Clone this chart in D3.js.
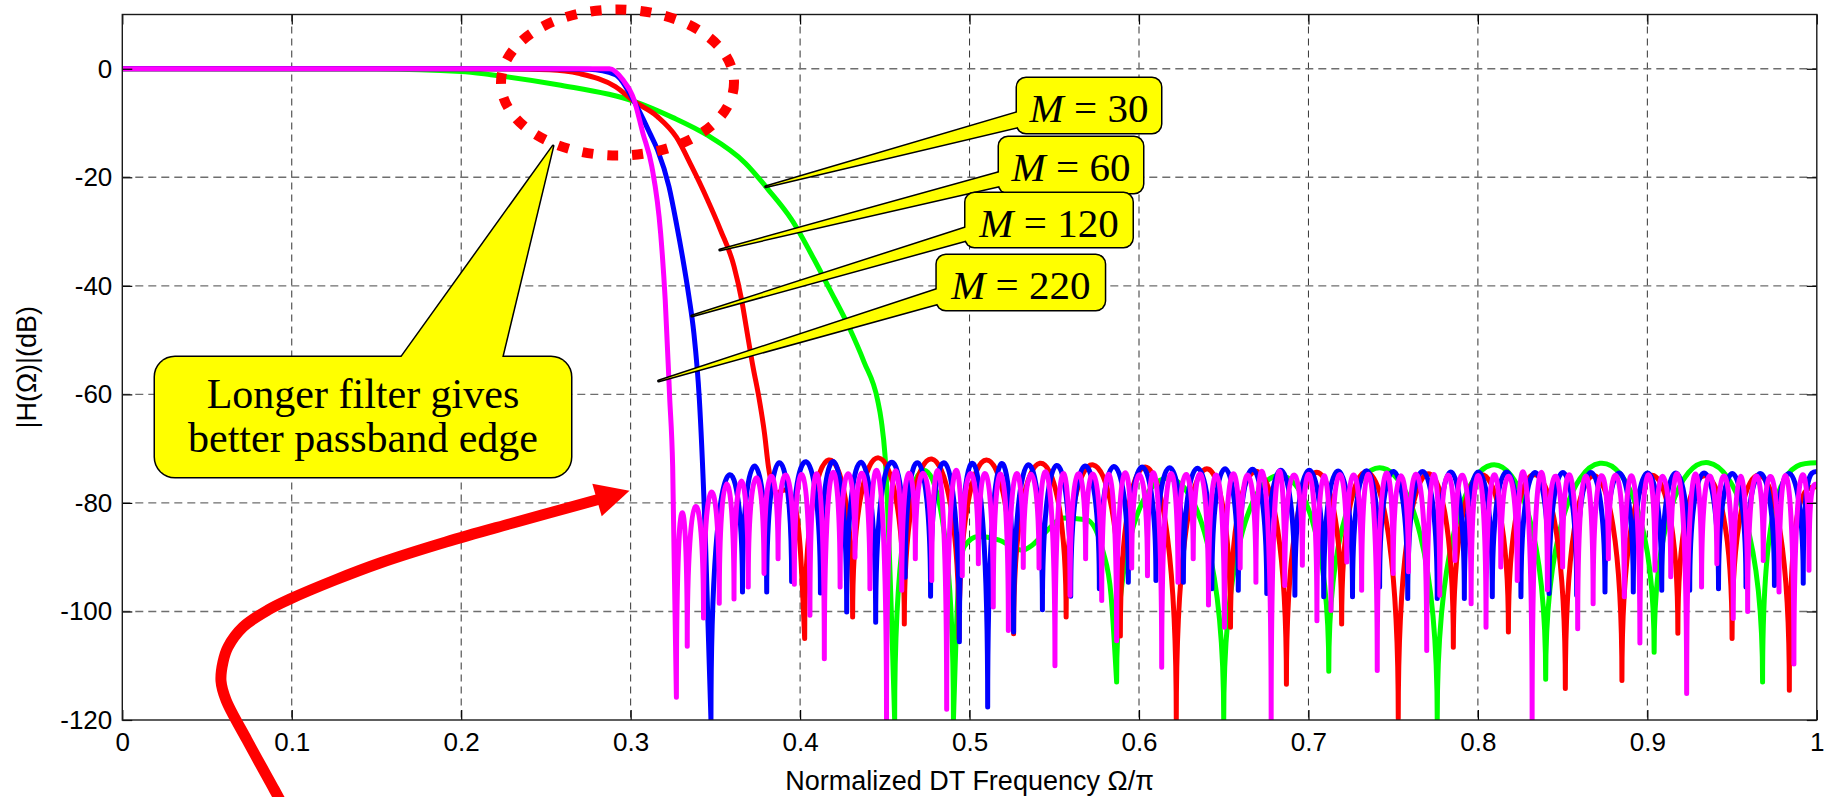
<!DOCTYPE html>
<html>
<head>
<meta charset="utf-8">
<script src="https://cdn.jsdelivr.net/npm/d3@7"></script>
<style>
  html, body { margin: 0; padding: 0; background: #fff; }
  svg { display: block; }
</style>
</head>
<body>
<svg id="chart" width="1835" height="797"></svg>
<script>
// ---------------- axis ticks ----------------
const freqTicks = [0, 0.1, 0.2, 0.3, 0.4, 0.5, 0.6, 0.7, 0.8, 0.9, 1];
const freqTickLabels = ["0", "0.1", "0.2", "0.3", "0.4", "0.5", "0.6", "0.7", "0.8", "0.9", "1"];
const dbTicks = [-120, -100, -80, -60, -40, -20, 0];
const dbTickLabels = ["-120", "-100", "-80", "-60", "-40", "-20", "0"];

// ---------------- filter lengths ----------------
const filterLengths = [30, 60, 120, 220];

// ---------------- M = 30 ----------------
// passband and transition band (Ω/π, dB)
const m30EdgeF  = [0, 0.15, 0.2, 0.2175, 0.257, 0.302, 0.325, 0.345, 0.3677, 0.3813, 0.395, 0.4084, 0.4174, 0.4287, 0.4377, 0.4457, 0.448, 0.4501, 0.4558];
const m30EdgeDb = [0, -0.05, -0.5, -1.1, -2.95, -6.0, -9.0, -12.2, -17.4, -22.3, -27.8, -35.2, -40.6, -47.5, -54.0, -61.0, -65.0, -71.2, -120];
// broad stopband hump between two nulls
const m30HumpF  = [0.4905, 0.4935, 0.497, 0.505, 0.517, 0.531, 0.536, 0.546, 0.555, 0.569, 0.579, 0.5835, 0.5868];
const m30HumpDb = [-120, -95, -88, -86.2, -86.8, -88.7, -88, -85, -82.8, -83.1, -89.2, -97, -113];
// stopband nulls and the sidelobe peak between consecutive nulls (null = drawn by the hump)
const m30NullF  = [0.4558, 0.4905, 0.5868, 0.650, 0.712, 0.776, 0.840, 0.904, 0.968];
const m30NullDb = [-120, -120, -113, -120, -111, -120, -112.5, -107.5, -113];
const m30PeakDb = [-74, null, -75.5, -75, -73.6, -73.0, -72.7, -72.6];
const m30EndDb = -72.6;

// ---------------- M = 60 ----------------
const m60EdgeF  = [0, 0.2, 0.252, 0.270, 0.291, 0.302, 0.3158, 0.327, 0.336, 0.345, 0.353, 0.361, 0.3655, 0.3688, 0.3722, 0.3756, 0.379, 0.3813, 0.3858, 0.391, 0.396, 0.400, 0.4027];
const m60EdgeDb = [0, 0, -0.2, -0.9, -3.3, -6.0, -8.8, -12.6, -18.0, -23.9, -29.7, -36.4, -42.6, -48.7, -54.9, -60.4, -67.2, -73.3, -78.2, -77.6, -79.5, -88, -105];
const m60NullF  = [0.4027, 0.431, 0.4615, 0.4938, 0.526, 0.557, 0.589, 0.622, 0.654, 0.687, 0.7196, 0.753, 0.7855, 0.818, 0.8516, 0.885, 0.918, 0.950, 0.9838];
const m60NullDb = [-105, -101, -102.3, -105, -104.1, -101, -104.5, -120, -102.9, -113.4, -102.3, -119.7, -106.6, -103.8, -114.2, -112.7, -104, -105, -114.5];
const m60PeakDb = [-72.1, -71.7, -71.9, -72.1, -72.7, -73.0, -73.6, -74.0, -74.3, -74.5, -74.6, -74.8, -74.8, -74.9, -75.0, -75.0, -75.0, -75.0];
const m60EndDb = -77;

// ---------------- M = 120 ----------------
const m120EdgeF  = [0, 0.25, 0.2755, 0.291, 0.302, 0.3113, 0.3158, 0.3226, 0.327, 0.3305, 0.3343, 0.3373, 0.3405, 0.344, 0.3474];
const m120EdgeDb = [0, 0, -0.1, -1.1, -6.0, -11.85, -14.9, -21.7, -28.5, -34.5, -41.8, -48.7, -60.7, -85.5, -120];
const m120NullF  = [0.3474, 0.366, 0.3803, 0.395, 0.412, 0.4275, 0.4446, 0.462, 0.477, 0.494,
                    0.5107, 0.526, 0.543, 0.5597, 0.5766, 0.5937, 0.610, 0.6262, 0.643, 0.6586,
                    0.6754, 0.692, 0.709, 0.726, 0.742, 0.7586, 0.776, 0.792, 0.8085, 0.8254,
                    0.842, 0.8583, 0.875, 0.8917, 0.9085, 0.925, 0.942, 0.9582, 0.975, 0.992];
const m120NullDb = [-120, -96.4, -96.4, -94.5, -96.6, -100.1, -102, -93.7, -97.2, -105.6,
                    -117.6, -103.8, -99.7, -97.2, -95.8, -94.6, -94.3, -94.6, -95.8, -96.1,
                    -96.7, -97, -97.3, -97.3, -95.5, -97.6, -97.6, -97.6, -97.3, -97.3,
                    -96.7, -97, -96.4, -96.4, -96.1, -96.1, -95.8, -95.5, -95.2, -94.8];
const m120PeakDb = [-75.4, -73.2, -72.6, -72.4, -72.4, -72.5, -72.6, -72.6, -72.7, -72.8,
                    -72.9, -73.0, -73.1, -73.2, -73.3, -73.4, -73.5, -73.6, -73.7, -73.8,
                    -74.0, -74.0, -74.1, -74.1, -74.2, -74.2, -74.3, -74.3, -74.3, -74.4,
                    -74.4, -74.4, -74.5, -74.5, -74.5, -74.5, -74.6, -74.6, -74.6];
const m120EndDb = -74.2;

// ---------------- M = 220 ----------------
const m220EdgeF  = [0, 0.25, 0.2875, 0.2953, 0.302, 0.3072, 0.3125, 0.3177, 0.3204, 0.323, 0.3248, 0.327];
const m220EdgeDb = [0, 0, 0, -2, -5.7, -11.85, -18, -30.3, -42.6, -60.4, -73.3, -115.8];
const m220NullF  = [0.327, 0.3334, 0.343, 0.3523, 0.361, 0.3694, 0.3787, 0.387, 0.3966, 0.4058,
                    0.4143, 0.4236, 0.4324, 0.4412, 0.451, 0.46, 0.468, 0.4777, 0.4865, 0.4957,
                    0.5052, 0.514, 0.5229, 0.5317, 0.541, 0.5504, 0.5593, 0.5685, 0.578, 0.5868,
                    0.5957, 0.605, 0.6134, 0.623, 0.632, 0.641, 0.6504, 0.6597, 0.669, 0.678,
                    0.686, 0.6964, 0.705, 0.7133, 0.7226, 0.7314, 0.7406, 0.75, 0.759, 0.7698,
                    0.7775, 0.7865, 0.796, 0.8048, 0.8135, 0.8232, 0.832, 0.841, 0.85, 0.8589,
                    0.868, 0.877, 0.8864, 0.8956, 0.9045, 0.9138, 0.9232, 0.932, 0.941, 0.9507,
                    0.9592, 0.9684, 0.9777, 0.9865, 0.9954];
const m220NullDb = [-115.8, -106.4, -101.2, -98.5, -97.7, -95.5, -93, -90.3, -95, -100.7,
                    -108.7, -95.5, -90, -95.8, -120, -96.1, -90.3, -94.3, -118, -93.4,
                    -91.2, -99.2, -103.5, -91.9, -92, -110, -97, -90.3, -98, -105.4,
                    -92, -93.4, -110.3, -94.6, -90.3, -98.8, -102.9, -92, -94.6, -120,
                    -95.2, -91.5, -101.7, -99.8, -90.9, -96.1, -110.9, -93, -92.7, -107.2,
                    -97, -90.6, -98.6, -102.9, -91.8, -94.3, -120, -96, -91.8, -103.2,
                    -98.6, -90.3, -97.3, -105.8, -92.4, -93.6, -115.1, -95.5, -91.2, -101.3,
                    -100, -90.6, -96.4, -109.7, -92.4];
const m220PeakDb = [-81.9, -80.7, -78.0, -76.5, -76.0, -75.4, -75.1, -74.9, -74.8, -74.7,
                    -74.6, -74.7, -74.6, -74.6, -74.7, -74.6, -74.6, -74.7, -74.7, -74.6,
                    -74.7, -74.7, -74.8, -74.7, -74.7, -74.8, -74.7, -74.8, -74.8, -74.7,
                    -74.8, -74.8, -74.9, -74.8, -74.8, -74.9, -74.8, -74.9, -74.9, -74.8,
                    -74.9, -74.9, -75.0, -74.9, -74.9, -75.0, -74.9, -75.0, -75.0, -74.9,
                    -75.0, -75.0, -75.0, -75.0, -75.1, -75.0, -75.0, -75.1, -75.0, -75.1,
                    -75.1, -75.0, -75.1, -75.1, -75.1, -75.2, -75.1, -75.1, -75.2, -75.1,
                    -75.2, -75.2, -75.2, -75.2];
const m220EndDb = -76.5;

// ---------------- assemble series ----------------
const zip = (a, b) => a.map((v, i) => [v, b[i]]);
const series = [
  { M: filterLengths[0], color: "#00ff00",
    curves: [zip(m30EdgeF, m30EdgeDb), zip(m30HumpF, m30HumpDb)],
    nulls: zip(m30NullF, m30NullDb), peaks: m30PeakDb, endDb: m30EndDb },
  { M: filterLengths[1], color: "#ff0000",
    curves: [zip(m60EdgeF, m60EdgeDb)],
    nulls: zip(m60NullF, m60NullDb), peaks: m60PeakDb, endDb: m60EndDb },
  { M: filterLengths[2], color: "#0000ff",
    curves: [zip(m120EdgeF, m120EdgeDb)],
    nulls: zip(m120NullF, m120NullDb), peaks: m120PeakDb, endDb: m120EndDb },
  { M: filterLengths[3], color: "#ff00ff",
    curves: [zip(m220EdgeF, m220EdgeDb)],
    nulls: zip(m220NullF, m220NullDb), peaks: m220PeakDb, endDb: m220EndDb }
];

// ---------------- layout ----------------
const W = 1835, H = 797;
const plot = { left: 122.3, right: 1816.8, top: 14.5, bottom: 720 };
const sansFont = '"Liberation Sans", Arial, Helvetica, sans-serif';
const serifFont = '"Liberation Serif", "Times New Roman", Times, serif';

const svg = d3.select("#chart");
const x = d3.scaleLinear().domain([0, 1]).range([plot.left, plot.right]);
const y = d3.scaleLinear().domain([-120, 10]).range([plot.bottom, plot.top]);

svg.append("rect").attr("width", W).attr("height", H).attr("fill", "#fff");
svg.append("defs").append("clipPath").attr("id", "plotClip")
  .append("rect")
  .attr("x", x(0)).attr("y", y(10))
  .attr("width", x(1) - x(0)).attr("height", y(-120) - y(10));

// ---------------- grid ----------------
const grid = svg.append("g");
grid.selectAll("line.vgrid")
  .data(freqTicks.filter(f => f > 0 && f < 1))
  .join("line").attr("class", "vgrid")
  .attr("x1", d => x(d)).attr("x2", d => x(d))
  .attr("y1", y(10)).attr("y2", y(-120))
  .attr("stroke", "#333").attr("stroke-width", 1)
  .attr("stroke-dasharray", "7,5");
grid.selectAll("line.hgrid")
  .data(dbTicks.filter(d => d > -120))
  .join("line").attr("class", "hgrid")
  .attr("x1", x(0)).attr("x2", x(1))
  .attr("y1", d => y(d)).attr("y2", d => y(d))
  .attr("stroke", "#6e6e6e").attr("stroke-width", 1.4)
  .attr("stroke-dasharray", "8,5");

// ---------------- responses ----------------
const lineGen = d3.line()
  .x(d => x(d[0])).y(d => y(d[1]))
  .curve(d3.curveMonotoneX);

// Sidelobes: one arch per pair of neighbouring nulls, rising steeply out of
// each null and levelling off at the lobe's peak level.
function lobePath(nulls, peaks, endDb) {
  let d = "";
  let penDown = false;
  for (let i = 0; i < nulls.length - 1; i++) {
    const xa = x(nulls[i][0]), ya = y(nulls[i][1]);
    const xb = x(nulls[i + 1][0]), yb = y(nulls[i + 1][1]);
    if (peaks[i] === null) { penDown = false; continue; }
    if (!penDown) { d += `M${xa},${ya}`; penDown = true; }
    const yp = y(peaks[i]);
    const yc = (yp - 0.125 * (ya + yb)) / 0.75;
    d += `C${xa},${yc} ${xb},${yc} ${xb},${yb}`;
  }
  const last = nulls[nulls.length - 1];
  const xl = x(last[0]), yl = y(last[1]);
  const xt = x(1), yt = y(endDb);
  if (!penDown) d += `M${xl},${yl}`;
  d += `C${xl},${yt} ${xl + 0.5 * (xt - xl)},${yt} ${xt},${yt}`;
  return d;
}

const curves = svg.append("g").attr("clip-path", "url(#plotClip)");
series.forEach(s => {
  const d = s.curves.map(c => lineGen(c)).join("") + lobePath(s.nulls, s.peaks, s.endDb);
  curves.append("path")
    .attr("d", d)
    .attr("fill", "none")
    .attr("stroke", s.color)
    .attr("stroke-width", 5)
    .attr("stroke-linejoin", "round")
    .attr("stroke-linecap", "round");
});

// ---------------- axes ----------------
function styleAxis(g) {
  g.select(".domain").remove();
  g.attr("font-family", sansFont).attr("font-size", 26);
  g.selectAll(".tick line").attr("stroke", "#000").attr("stroke-width", 1.2);
  g.selectAll(".tick text").attr("fill", "#000");
}
svg.append("g").attr("transform", `translate(0,${y(-120)})`)
  .call(d3.axisBottom(x).tickValues(freqTicks)
    .tickFormat((d, i) => freqTickLabels[i])
    .tickSizeInner(-10).tickSizeOuter(0).tickPadding(13))
  .call(styleAxis);
svg.append("g").attr("transform", `translate(0,${y(10)})`)
  .call(d3.axisTop(x).tickValues(freqTicks).tickFormat("")
    .tickSizeInner(-10).tickSizeOuter(0))
  .call(styleAxis);
svg.append("g").attr("transform", `translate(${x(0)},0)`)
  .call(d3.axisLeft(y).tickValues(dbTicks)
    .tickFormat((d, i) => dbTickLabels[i])
    .tickSizeInner(-10).tickSizeOuter(0).tickPadding(10))
  .call(styleAxis);
svg.append("g").attr("transform", `translate(${x(1)},0)`)
  .call(d3.axisRight(y).tickValues(dbTicks).tickFormat("")
    .tickSizeInner(-10).tickSizeOuter(0))
  .call(styleAxis);

svg.append("rect")
  .attr("x", x(0)).attr("y", y(10))
  .attr("width", x(1) - x(0)).attr("height", y(-120) - y(10))
  .attr("fill", "none").attr("stroke", "#1a1a1a").attr("stroke-width", 1.4);

svg.append("text")
  .attr("x", (x(0) + x(1)) / 2).attr("y", 790)
  .attr("text-anchor", "middle")
  .attr("font-family", sansFont).attr("font-size", 27)
  .text("Normalized DT Frequency \u03A9/\u03C0");

svg.append("text")
  .attr("transform", `translate(36,${(y(10) + y(-120)) / 2}) rotate(-90)`)
  .attr("text-anchor", "middle")
  .attr("font-family", sansFont).attr("font-size", 27)
  .text("|H(\u03A9)|(dB)");

// ---------------- annotations ----------------
const notes = svg.append("g");

// dotted ring around the passband edge
notes.append("ellipse")
  .attr("cx", 617.5).attr("cy", 82.5).attr("rx", 116.5).attr("ry", 73)
  .attr("fill", "none").attr("stroke", "#ff0000")
  .attr("stroke-width", 10).attr("stroke-dasharray", "11,14");

// yellow callout: rounded box plus pointer, outlined as one shape
function callout(box, pointer, r) {
  const g = notes.append("g");
  const pts = pointer.map(p => p.join(",")).join(" ");
  [true, false].forEach(outline => {
    g.append("polygon").attr("points", pts)
      .attr("fill", "#ffff00")
      .attr("stroke", outline ? "#000" : "none")
      .attr("stroke-width", outline ? 3 : 0)
      .attr("stroke-linejoin", "round");
    g.append("rect")
      .attr("x", box.x).attr("y", box.y).attr("width", box.w).attr("height", box.h)
      .attr("rx", r).attr("ry", r)
      .attr("fill", "#ffff00")
      .attr("stroke", outline ? "#000" : "none")
      .attr("stroke-width", outline ? 3 : 0);
  });
  return g;
}

const bigNote = callout({ x: 155, y: 357, w: 416, h: 120 },
  [[395, 366], [500, 366], [553, 146]], 20);
bigNote.append("text")
  .attr("x", 363).attr("y", 408).attr("text-anchor", "middle")
  .attr("font-family", serifFont).attr("font-size", 42)
  .text("Longer filter gives");
bigNote.append("text")
  .attr("x", 363).attr("y", 452).attr("text-anchor", "middle")
  .attr("font-family", serifFont).attr("font-size", 42)
  .text("better passband edge");

const mNotes = [
  { box: { x: 1017, y: 78, w: 144, h: 55 }, pointer: [[1026, 110], [1026, 125], [765.7, 186.7]] },
  { box: { x: 999, y: 137, w: 144, h: 56 }, pointer: [[1008, 170], [1008, 184], [719.8, 250]] },
  { box: { x: 965.5, y: 193, w: 167, h: 54 }, pointer: [[974, 225], [974, 238.3], [691.8, 316]] },
  { box: { x: 936.8, y: 255, w: 168, h: 55 }, pointer: [[945, 286.7], [945, 301.7], [658.6, 381]] }
];
mNotes.forEach((n, i) => {
  const g = callout(n.box, n.pointer, 9);
  const t = g.append("text")
    .attr("x", n.box.x + n.box.w / 2).attr("y", n.box.y + 43.5)
    .attr("text-anchor", "middle")
    .attr("font-family", serifFont).attr("font-size", 41);
  t.append("tspan").attr("font-style", "italic").text("M");
  t.append("tspan").text(" = " + filterLengths[i]);
});

// curved red arrow pointing at the stopband
const arrowPts = [[281, 802], [274.5, 790], [247, 740], [226, 700], [221, 681], [223, 662],
                  [228, 647], [243, 627], [268, 610], [290, 599], [335, 580], [380, 563],
                  [446, 542], [513, 523], [600, 499]];
notes.append("path")
  .attr("d", d3.line().curve(d3.curveCatmullRom)(arrowPts))
  .attr("fill", "none").attr("stroke", "#ff0000").attr("stroke-width", 11);
notes.append("polygon")
  .attr("points", [[629.5, 490.7], [592.3, 483.7], [601.7, 516.3]].map(p => p.join(",")).join(" "))
  .attr("fill", "#ff0000");
</script>
</body>
</html>
